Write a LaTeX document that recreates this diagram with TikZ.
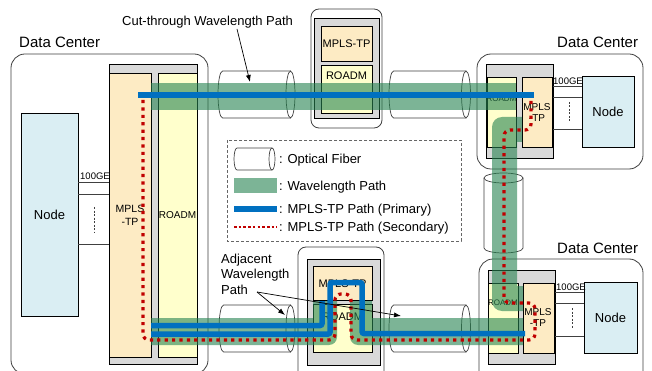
\documentclass[tikz,border=0pt]{standalone}
\usepackage{fontspec}
\setmainfont{Liberation Sans}
\usetikzlibrary{arrows.meta}
\definecolor{nodeblue}{HTML}{DAEEF3}
\definecolor{boxgray}{HTML}{D9D9D9}
\definecolor{mplsfill}{HTML}{FDEBC4}
\definecolor{roadmfill}{HTML}{FFFFCC}
\definecolor{wlgreen}{RGB}{38,130,80}
\definecolor{primblue}{HTML}{0070C0}
\definecolor{secred}{HTML}{C00000}
\definecolor{outl}{HTML}{404040}
\tikzset{
  dcbox/.style={draw=outl, line width=0.8, rounded corners=14},
  sitebox/.style={draw=outl, line width=0.8, rounded corners=8},
  graybox/.style={draw=black, fill=boxgray, line width=0.8},
  mplsbox/.style={draw=black, fill=mplsfill, line width=0.8},
  roadmbox/.style={draw=black, fill=roadmfill, line width=0.8},
  hostbox/.style={draw=black, fill=nodeblue, line width=0.8},
  linkline/.style={draw=outl, line width=0.8},
  dashv/.style={draw=outl, line width=0.8, dash pattern=on 2 off 1.5},
  fib/.style={draw=outl, fill=white, line width=0.7},
  wl/.style={fill=wlgreen, fill opacity=0.6},
  prim/.style={draw=primblue, line width=5.5, rounded corners=2},
  secpath/.style={draw=secred, line width=3.2, dash pattern=on 3.2 off 4.2, rounded corners=6},
  txt/.style={inner sep=0, font=\fontsize{13}{15.5}\selectfont},
  dctxt/.style={inner sep=0, font=\fontsize{15}{18}\selectfont},
  boxtxt/.style={inner sep=0, font=\fontsize{10.5}{13}\selectfont, align=center},
  tinytxt/.style={inner sep=0, font=\fontsize{8}{10}\selectfont},
  getxt/.style={inner sep=0, font=\fontsize{9.5}{11}\selectfont},
  pointer/.style={draw=black, line width=0.7, -{Latex[length=7pt,width=5pt]}},
}
% horizontal fiber: x0, x1, yc, rx, ry
\newcommand\fibH[5]{%
  \filldraw[fib] (#2,#3-#5) -- (#1,#3-#5) arc[start angle=270,end angle=90,x radius=#4,y radius=#5] -- (#2,#3+#5);
  \filldraw[fib] (#2,#3) ellipse[x radius=#4,y radius=#5];}
\begin{document}
\begin{tikzpicture}[x=1pt,y=-1pt]
\useasboundingbox (0,0) rectangle (652,371);
\clip (0,0) rectangle (652,371);
\fill[white] (0,0) rectangle (652,371);

% ===== Left data center =====
\draw[dcbox] (11,54) rectangle (208,374);
\node[dctxt, anchor=base west] (dcL) at (19,48) {Data Center};
\draw[hostbox] (21,113) rectangle (78,316);
\node[txt] (nodeL) at (49.5,214.5) {Node};
\draw[linkline] (78,182) -- (109,182);
\draw[linkline] (78,194) -- (109,194);
\draw[linkline] (78,244) -- (109,244);
\draw[dashv] (94,207) -- (94,232);
\node[getxt, anchor=base west] (geL) at (80,179.5) {100GE};
\draw[graybox] (109,64) rectangle (197,364);
\draw[mplsbox] (109,73) rectangle (151,357);
\draw[roadmbox] (158,73) rectangle (197,357);
\node[boxtxt] (mplsL) at (130,215.5) {MPLS\\-TP};
\node[boxtxt, font=\fontsize{10}{12}\selectfont] (roadmL) at (177.5,215) {ROADM};

% ===== Top middle site =====
\draw[sitebox] (311,9) rectangle (382,128);
\draw[graybox] (314,18) rectangle (379,118);
\draw[mplsbox] (321,26) rectangle (372,61);
\draw[roadmbox] (321,65) rectangle (372,113);
\node[boxtxt, font=\fontsize{11}{13}\selectfont] (mplsT) at (346.5,43.5) {MPLS-TP};
\node[boxtxt, font=\fontsize{11}{13}\selectfont] (roadmT) at (346.5,76) {ROADM};

% ===== Bottom middle site =====
\draw[sitebox] (298,247) rectangle (384,385);
\draw[graybox] (307,259) rectangle (380,365);
\draw[mplsbox] (313,266) rectangle (372,300);
\draw[roadmbox] (313,304) rectangle (372,352);
\node[boxtxt, font=\fontsize{11}{13}\selectfont] (mplsB) at (342.5,284) {MPLS-TP};
\node[boxtxt, font=\fontsize{11}{13}\selectfont] (roadmB) at (342.5,317) {ROADM};

% ===== Top right data center =====
\draw[dcbox] (477,54) rectangle (643,169);
\node[dctxt, anchor=base west] (dcTR) at (557,48) {Data Center};
\draw[graybox] (486,64) rectangle (553,158);
\draw[roadmbox] (487,77) rectangle (516,147);
\draw[mplsbox] (522,77) rectangle (552,147);
\node[tinytxt] (roadmTR) at (501.5,99) {ROADM};
\node[boxtxt, font=\fontsize{10}{11}\selectfont] (mplsTR) at (537,112.5) {MPLS\\-TP};
\draw[hostbox] (582,76) rectangle (634,147);
\node[txt] (nodeTR) at (608,111.5) {Node};
\draw[linkline] (553,86) -- (582,86);
\draw[linkline] (553,97) -- (582,97);
\draw[linkline] (553,129) -- (582,129);
\draw[dashv] (569,102) -- (569,122);
\node[getxt, anchor=base west] (geTR) at (553,84.5) {100GE};

% ===== Bottom right data center =====
\draw[dcbox] (479,259) rectangle (643,385);
\node[dctxt, anchor=base west] (dcBR) at (557,253) {Data Center};
\draw[graybox] (488,270) rectangle (555,364);
\draw[roadmbox] (488,283) rectangle (518,353);
\draw[mplsbox] (523,283) rectangle (554,353);
\node[tinytxt] (roadmBR) at (503,303) {ROADM};
\node[boxtxt, font=\fontsize{10}{11}\selectfont] (mplsBR) at (538,318) {MPLS\\-TP};
\draw[hostbox] (584,282) rectangle (637,353);
\node[txt] (nodeBR) at (610.5,317.5) {Node};
\draw[linkline] (555,292) -- (584,292);
\draw[linkline] (555,303) -- (584,303);
\draw[linkline] (555,336) -- (584,336);
\draw[dashv] (572,308) -- (572,328);
\node[getxt, anchor=base west] (geBR) at (556,290) {100GE};

% ===== Fibers =====
\fibH{222.5}{290.5}{94.5}{4.5}{23.5}
\fibH{393.5}{466}{94.5}{4.5}{23.5}
\fibH{223.5}{290.5}{328.5}{4.5}{23.5}
\fibH{393.5}{466}{328.5}{4.5}{23.5}
\filldraw[fib] (484,178) -- (484,248) arc[start angle=180,end angle=0,x radius=19.5,y radius=5] -- (523,178);
\filldraw[fib] (503.5,178) ellipse[x radius=19.5,y radius=5];

% ===== Wavelength paths =====
\fill[wl] (151,83) rectangle (516,110);
\fill[wl] (522,117) -- (502,117) .. controls (496.5,117) and (492,121.5) .. (492,127)
  -- (492,301) .. controls (492,306.5) and (496.5,311) .. (502,311)
  -- (523,311) -- (523,286) -- (517,286) -- (517,142) -- (522,142) -- cycle;
\fill[wl] (151,318) -- (313,318) -- (313,301) -- (337,301) -- (337,337)
  .. controls (337,341.4) and (333.4,345) .. (329,345) -- (151,345) -- cycle;
\fill[wl] (350,301) -- (372,301) -- (372,318) -- (523,318) -- (523,345) -- (358,345)
  .. controls (353.6,345) and (350,341.4) .. (350,337) -- cycle;

% ===== MPLS-TP primary paths =====
\draw[prim] (138,95) -- (534,95);
\draw[prim] (151,325.5) -- (322,325.5) -- (322,301);
\draw[prim] (151,334) -- (330,334) -- (330,282.5) -- (362,282.5) -- (362,333.5) -- (525,333.5);

% ===== MPLS-TP secondary path =====
\draw[secpath] (143,100) -- (143,340) -- (335,340) -- (335,294) -- (351,294) -- (351,340)
  -- (535,340) -- (535,303) -- (504,303) -- (504,130) -- (531,130) -- (531,100);

% ===== Labels and pointers =====
\node[txt, anchor=base west] (cutlbl) at (122,25.5) {Cut-through Wavelength Path};
\coordinate (cutsrc) at (237,29);
\coordinate (cuttip) at (250,82);
\draw[pointer] (cutsrc) -- (cuttip);
\node[txt, anchor=base west, align=left, font=\fontsize{13}{15.5}\selectfont] (adjlbl) at (221,294) {Adjacent\\Wavelength\\Path};
\coordinate (adjsrc) at (257,292);
\coordinate (adjtipA) at (285,315);
\coordinate (adjtipB) at (401,316);
\draw[pointer] (adjsrc) -- (adjtipA);
\draw[pointer] (adjsrc) -- (adjtipB);

% ===== Legend =====
\draw[draw=gray!80!black, line width=0.8, dash pattern=on 3 off 2] (227,140) rectangle (461,241);
\fibH{237}{272}{159}{3}{11}
\node[txt, anchor=base west] (lgfib) at (279,164) {: Optical Fiber};
\fill[wl] (234,178) rectangle (277,193);
\node[txt, anchor=base west] (lgwl) at (279,190) {: Wavelength Path};
\coordinate (lgpa) at (234,209);
\coordinate (lgpb) at (277,209);
\draw[draw=primblue, line width=5] (lgpa) -- (lgpb);
\node[txt, anchor=base west] (lgprim) at (279,213.5) {: MPLS-TP Path (Primary)};
\coordinate (lgsa) at (234,227);
\coordinate (lgsb) at (277,227);
\draw[draw=secred, line width=2.4, dash pattern=on 2.6 off 2.1] (lgsa) -- (lgsb);
\node[txt, anchor=base west] (lgsec) at (279,231.5) {: MPLS-TP Path (Secondary)};
\end{tikzpicture}
\end{document}
